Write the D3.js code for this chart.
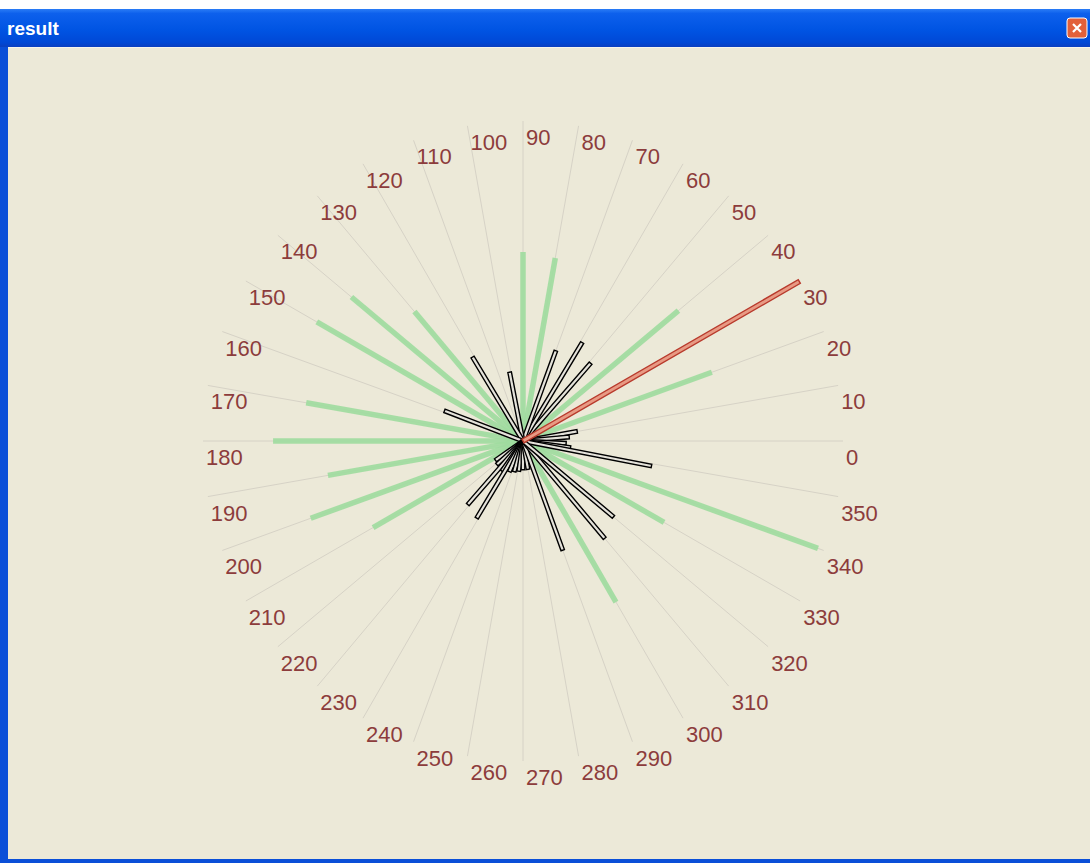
<!DOCTYPE html>
<html>
<head>
<meta charset="utf-8">
<script src="https://cdn.jsdelivr.net/npm/d3@7"></script>
<style>
  html, body { margin: 0; padding: 0; background: #ffffff; }
  svg { display: block; }
</style>
</head>
<body>
<svg id="chart" width="1090" height="863"></svg>
<script>
// ---- data ----
const angleTicks = [0,10,20,30,40,50,60,70,80,90,100,110,120,130,140,150,160,170,
                    180,190,200,210,220,230,240,250,260,270,280,290,300,310,320,330,340,350];
const greenAngles = [20,40,80,90,130,140,150,170,180,190,200,210,300,330,340];
const greenValues = [62.8,63.4,58.1,59.1,52.8,70.0,74.4,68.8,78.1,61.9,70.6,54.1,58.1,50.9,98.1];
const redAngles = [30];
const redValues = [99.7];
const blackAngles = [10,5,357,352,349,49,59,70,101,121,159,215,222,229,235,239,246,254,262,270,280,290,310,320];
const blackValues = [17.2,14.5,13.5,15.0,40.9,32.2,35.9,30.0,21.9,30.6,26.3,10.5,11.0,26.3,11.5,28.1,10.5,10.0,9.5,9.0,9.0,36.3,39.7,36.9];
const titleText = "result";

// ---- layout ----
const svg = d3.select("#chart");
const W = 1090, H = 863;
const cx = 523, cy = 441, R = 320;
const r = d3.scaleLinear().domain([0, 100]).range([0, R]);
const rad = d3.scaleLinear().domain([0, 360]).range([0, 2 * Math.PI]);
const px = (a, v) => cx + r(v) * Math.cos(rad(a));
const py = (a, v) => cy - r(v) * Math.sin(rad(a));

// window chrome
const defs = svg.append("defs");
const tg = defs.append("linearGradient").attr("id", "title").attr("x1", 0).attr("y1", 0).attr("x2", 0).attr("y2", 1);
tg.append("stop").attr("offset", "0%").attr("stop-color", "#2a7cf6");
tg.append("stop").attr("offset", "12%").attr("stop-color", "#0d60ec");
tg.append("stop").attr("offset", "55%").attr("stop-color", "#0054e3");
tg.append("stop").attr("offset", "88%").attr("stop-color", "#0048d6");
tg.append("stop").attr("offset", "100%").attr("stop-color", "#0a3fc0");

svg.append("rect").attr("x", 0).attr("y", 9).attr("width", W).attr("height", H - 9).attr("fill", "#0a4fd8");
svg.append("rect").attr("x", 0).attr("y", 9).attr("width", W).attr("height", 38).attr("fill", "url(#title)");
svg.append("rect").attr("x", 8).attr("y", 47).attr("width", W - 8).attr("height", H - 47 - 4).attr("fill", "#ece9d8");
svg.append("line").attr("x1", 8).attr("x2", W).attr("y1", 47.5).attr("y2", 47.5).attr("stroke", "#f6f4ec");

svg.append("text").attr("x", 7).attr("y", 35).text(titleText)
  .attr("font-family", "Liberation Sans, Arial, sans-serif").attr("font-weight", "bold")
  .attr("font-size", 19).attr("fill", "#ffffff");

// close button
const cb = svg.append("g").attr("transform", "translate(1067,18)");
cb.append("rect").attr("width", 20).attr("height", 20).attr("rx", 3).attr("fill", "#e2603a").attr("stroke", "#ffffff").attr("stroke-width", 1);
cb.append("path").attr("d", "M6,6 L14,14 M14,6 L6,14").attr("stroke", "#ffffff").attr("stroke-width", 2.2);

// grid
const g = svg.append("g");
g.selectAll("line.grid").data(angleTicks).join("line").attr("class", "grid")
  .attr("x1", cx).attr("y1", cy)
  .attr("x2", d => px(d, 100)).attr("y2", d => py(d, 100))
  .attr("stroke", "#d6d2c6").attr("stroke-width", 1);

// green bars
const greens = greenAngles.map((a, i) => ({a, v: greenValues[i]}));
g.selectAll("line.green").data(greens).join("line").attr("class", "green")
  .attr("x1", cx).attr("y1", cy)
  .attr("x2", d => px(d.a, d.v)).attr("y2", d => py(d.a, d.v))
  .attr("stroke", "#9fdc9f").attr("stroke-width", 5.5).attr("stroke-opacity", 0.9);

// outlined bar polygon
function barPoly(a, v, w) {
  const t = rad(a);
  const ux = Math.cos(t), uy = -Math.sin(t);
  const nx = -uy * w / 2, ny = ux * w / 2;
  const ex = px(a, v), ey = py(a, v);
  return [[cx + nx, cy + ny], [ex + nx, ey + ny], [ex - nx, ey - ny], [cx - nx, cy - ny]]
    .map(p => p.join(",")).join(" ");
}

const blacks = blackAngles.map((a, i) => ({a, v: blackValues[i]}));
g.selectAll("polygon.black").data(blacks).join("polygon").attr("class", "black")
  .attr("points", d => barPoly(d.a, d.v, 3.6))
  .attr("fill", "#e4e2da").attr("stroke", "#000000").attr("stroke-width", 1.4);

const reds = redAngles.map((a, i) => ({a, v: redValues[i]}));
g.selectAll("polygon.red").data(reds).join("polygon").attr("class", "red")
  .attr("points", d => barPoly(d.a, d.v, 4.2))
  .attr("fill", "#e89a84").attr("stroke", "#b83a2c").attr("stroke-width", 1.4);

// labels
g.selectAll("text.lab").data(angleTicks).join("text").attr("class", "lab")
  .attr("x", d => px(d, 100) + 3).attr("y", d => py(d, 100) + 24)
  .text(d => d)
  .attr("font-family", "Liberation Sans, Arial, sans-serif")
  .attr("font-size", 22).attr("fill", "#8c3c3c");
</script>
</body>
</html>
